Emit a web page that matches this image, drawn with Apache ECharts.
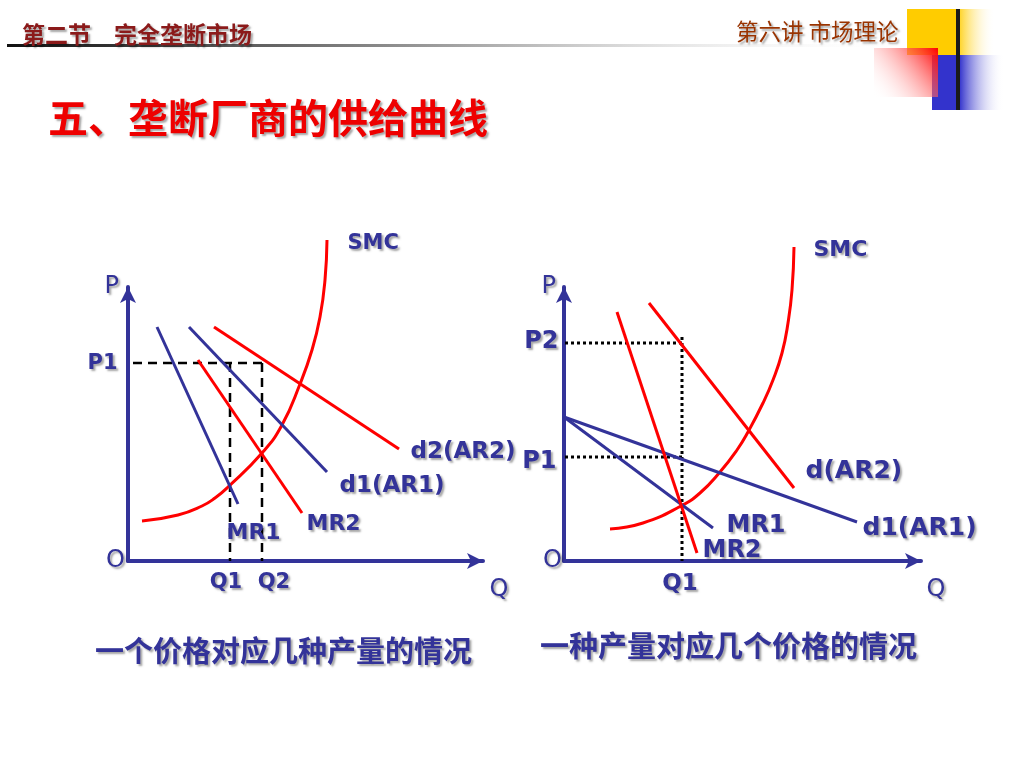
<!DOCTYPE html>
<html><head><meta charset="utf-8">
<script src="https://cdn.jsdelivr.net/npm/echarts@6/dist/echarts.min.js"></script>
<style>html,body{margin:0;padding:0;background:#fff}#c{width:1024px;height:768px}</style>
</head><body><div id="c"></div>
<script>
// ---------- Left diagram: one price, several quantities ----------
const leftSMC = [[14,40],[50,46],[74,55],[87,63],[100,74],[134,108],[154,136],[172,177],[184,211],[192,244],[197,281],[199,321]];
const leftMR1 = [[29,234],[110,57]];
const leftD1  = [[61,234],[199,89]];
const leftMR2 = [[70,201],[174,48]];
const leftD2  = [[86,234],[271,112]];
const leftPriceTicks = ['P1'];
const leftPriceValues = [198];
const leftQtyTicks = ['Q1','Q2'];
const leftQtyValues = [102,134];

// ---------- Right diagram: one quantity, several prices ----------
const rightSMC = [[46,32],[79,38],[117,55],[136,68],[156,89],[173,111],[184,129],[199,158],[209,181],[218,208],[224,238],[228,271],[230,314]];
const rightD1  = [[0,144],[293,39]];
const rightMR1 = [[0,144],[149,33]];
const rightMR2 = [[53,249],[133,8]];
const rightD2  = [[85,258],[230,73]];
const rightPriceTicks = ['P2','P1'];
const rightPriceValues = [218,104];
const rightQtyTicks = ['Q1'];
const rightQtyValues = [118];
const rightQtyTop = 224;

const captions = ['一个价格对应几种产量的情况','一种产量对应几个价格的情况'];

const BLUE = '#333399', RED = '#ff0000';
const SH = {textShadowColor:'rgba(0,0,0,0.35)', textShadowOffsetX:2, textShadowOffsetY:2, textShadowBlur:2};
const LATIN = '"DejaVu Sans", Verdana, sans-serif';
const CJK = '"Noto Sans CJK SC", sans-serif';

function lbl(text, position, offset, size, weight) {
  return Object.assign({show:true, position, distance:5, offset, formatter:text, color:BLUE,
    fontSize:size, fontWeight:weight || 'bold', fontFamily:LATIN}, SH);
}
function line(grid, data, color, width, type, label, smooth) {
  return {
    type:'line', xAxisIndex:grid, yAxisIndex:grid, silent:true, animation:false, clip:false,
    smooth: smooth || false,
    showSymbol:true, symbol:'circle', symbolSize:1,
    itemStyle:{color:'rgba(0,0,0,0)', borderWidth:0},
    lineStyle:{color, width, type: type || 'solid'},
    data: data.map((p,i) => i === data.length - 1 && label ? {value:p, label} : {value:p}),
    z: type ? 2 : 3
  };
}

const series = [];
// left guides
const lp = leftPriceValues[0], lqMax = Math.max(...leftQtyValues);
series.push(line(0, [[lqMax, lp],[0, lp]], '#000', 2.5, [9,6], lbl(leftPriceTicks[0],'left',[-5,1],21)));
const lqOff = [[-4,6],[12,6]];
leftQtyValues.forEach((q,i) => series.push(line(0, [[q, lp],[q, 0]], '#000', 2.5, [9,6], lbl(leftQtyTicks[i],'bottom',lqOff[i],21))));
// left curves
series.push(line(0, leftSMC, RED, 3, null, lbl('SMC','right',[15,4],21), 0.5));
series.push(line(0, leftMR1, BLUE, 3, null, lbl('MR1','right',[-17,29],22)));
series.push(line(0, leftD1, BLUE, 3, null, lbl('d1(AR1)','right',[7,14],23)));
series.push(line(0, leftMR2, RED, 3, null, lbl('MR2','right',[-1,11],22)));
series.push(line(0, leftD2, RED, 3, null, lbl('d2(AR2)','right',[6,3],23)));
// right guides
const rq = rightQtyValues[0];
const rpOff = [[0,-1],[-2,5]];
rightPriceValues.forEach((p,i) => series.push(line(1, [[rq, p],[0, p]], '#000', 3, 'dotted', lbl(rightPriceTicks[i],'left',rpOff[i],24))));
series.push(line(1, [[rq, rightQtyTop],[rq, 0]], '#000', 3, 'dotted', lbl(rightQtyTicks[0],'bottom',[-2,6],23)));
// right curves
series.push(line(1, rightSMC, RED, 3, null, lbl('SMC','right',[14,3],22), 0.5));
series.push(line(1, rightD1, BLUE, 3, null, lbl('d1(AR1)','right',[0,6],25)));
series.push(line(1, rightMR1, BLUE, 3, null, lbl('MR1','right',[8,-2],24)));
series.push(line(1, rightMR2, RED, 3, null, lbl('MR2','right',[0,-2],24)));
series.push(line(1, rightD2, RED, 3, null, lbl('d(AR2)','right',[6,-17],25)));

function axisLineCfg() {
  return {show:true, onZero:true, lineStyle:{color:BLUE, width:4}, symbol:['none','arrow'], symbolSize:[12,16]};
}
function nameStyle(extra) {
  return Object.assign({color:BLUE, fontSize:24, fontFamily:LATIN, fontWeight:'normal'}, SH, extra);
}
function xAx(grid, max, gap) {
  return {gridIndex:grid, type:'value', min:0, max, axisLine:axisLineCfg(), axisTick:{show:false},
    splitLine:{show:false}, axisLabel:{show:false},
    name:'Q', nameLocation:'end', nameGap:gap,
    nameTextStyle:nameStyle({align:'center', verticalAlign:'top', padding:[17,0,0,0]})};
}
function yAx(grid, max, padR, oMargin) {
  return {gridIndex:grid, type:'value', min:0, max, axisLine:axisLineCfg(), axisTick:{show:false},
    splitLine:{show:false},
    axisLabel:Object.assign({show:true, customValues:[0], formatter:() => 'O', margin:oMargin,
      color:BLUE, fontSize:24, fontFamily:LATIN}, SH),
    name:'P', nameLocation:'end', nameGap:0,
    nameTextStyle:nameStyle({align:'right', verticalAlign:'middle', padding:[0,padR,0,0]})};
}

function txt(x, y, text, fill, font, align) {
  return {type:'text', x, y, silent:true, z:10,
    style:Object.assign({text, fill, font, align: align || 'left', verticalAlign:'middle'}, SH)};
}

const graphic = {elements:[
  // header underline
  {type:'rect', shape:{x:7, y:44, width:900, height:3}, silent:true,
    style:{fill:new echarts.graphic.LinearGradient(0,0,1,0,[
      {offset:0,color:'#111'},{offset:0.3,color:'#666'},{offset:0.62,color:'#c8c8c8'},{offset:1,color:'rgba(255,255,255,0)'}])}},
  // decoration blocks
  {type:'rect', shape:{x:907, y:9, width:88, height:46}, silent:true,
    style:{fill:new echarts.graphic.LinearGradient(0,0,1,0,[
      {offset:0,color:'#ffcc00'},{offset:0.56,color:'#ffcc00'},{offset:1,color:'rgba(255,255,255,0)'}])}},
  {type:'rect', shape:{x:932, y:55, width:72, height:55}, silent:true,
    style:{fill:new echarts.graphic.LinearGradient(0,0,1,0,[
      {offset:0,color:'#3333cc'},{offset:0.38,color:'#3333cc'},{offset:1,color:'rgba(255,255,255,0)'}])}},
  {type:'rect', shape:{x:874, y:48, width:64, height:49}, silent:true,
    style:{fill:new echarts.graphic.LinearGradient(1,0,0,1,[
      {offset:0,color:'#ff0000'},{offset:1,color:'rgba(255,255,255,0)'}])}},
  {type:'rect', shape:{x:956, y:9, width:4, height:101}, silent:true, style:{fill:'#1a1a1a'}},
  // texts
  txt(22, 34, '第二节\u3000完全垄断市场', '#8b1a1a', 'bold 23px ' + CJK),
  txt(736, 31, '第六讲 市场理论', '#993300', '22.5px ' + CJK),
  txt(48, 118, '五、垄断厂商的供给曲线', '#ee0000', 'bold 40px ' + CJK),
  txt(95, 651, captions[0], BLUE, 'bold 29px ' + CJK),
  txt(540, 646, captions[1], BLUE, 'bold 29px ' + CJK)
]};

const chart = echarts.init(document.getElementById('c'), null, {renderer:'canvas'});
chart.setOption({
  backgroundColor:'#ffffff',
  animation:false,
  grid:[
    {left:128, top:287, width:355, height:274},
    {left:564, top:287, width:357, height:274}
  ],
  xAxis:[xAx(0,355,16), xAx(1,357,15)],
  yAxis:[yAx(0,274,9,3), yAx(1,274,8,2)],
  series,
  graphic
});
</script></body></html>
